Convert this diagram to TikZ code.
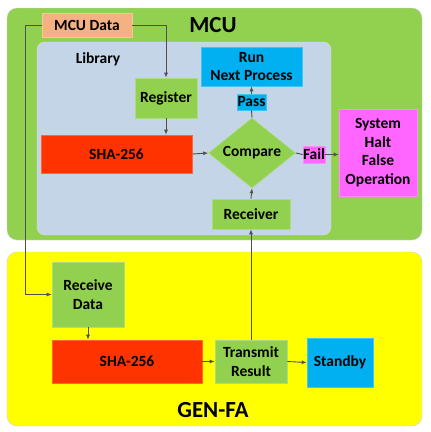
\documentclass[tikz,border=0pt]{standalone}
\usepackage{fontspec}
\setmainfont{Carlito}
\usetikzlibrary{shapes.geometric,arrows.meta}
\definecolor{mgreen}{HTML}{92D050}
\definecolor{mpeach}{HTML}{F4B183}
\definecolor{mlib}{HTML}{C3D5E6}
\definecolor{mred}{HTML}{FF3300}
\definecolor{mcyan}{HTML}{00B0F0}
\definecolor{mpink}{HTML}{FF66FF}
\definecolor{myellow}{HTML}{FFFF00}
\definecolor{mline}{HTML}{505050}
\begin{document}
\begin{tikzpicture}[x=1pt,y=-1pt,
  font=\fontsize{15.5}{18.5}\selectfont\bfseries,
  blk/.style={fill=#1,draw=#1!75!white,line width=0.6pt,inner sep=0pt,align=center},
  arr/.style={-{Latex[length=5pt,width=4pt]},draw=mline,line width=0.9pt},
  ln/.style={draw=mline,line width=0.9pt}]
\useasboundingbox (0,0) rectangle (431,432);
% containers
\draw[fill=mgreen,draw=gray!35,rounded corners=10pt] (7,8) rectangle (422,240);
\draw[fill=mlib,draw=gray!25,rounded corners=8pt] (37,42) rectangle (331,235);
\draw[fill=myellow,draw=gray!35,rounded corners=10pt] (7,252) rectangle (422,426);
\node (mcutitle) at (213,25) {\fontsize{23}{25}\selectfont MCU};
\node (libtitle) at (98,59) {Library};
\node (gentitle) at (213,410) {\fontsize{23}{25}\selectfont GEN-FA};
% MCU side
\node[blk=mpeach,minimum width=90,minimum height=24] (mcudata) at (87,25) {MCU Data};
\node[blk=mgreen,minimum width=62,minimum height=40] (reg) at (166,98) {Register};
\node[blk=mred,minimum width=151,minimum height=38] (sha1) at (116.5,154) {SHA-256};
\node[blk=mgreen,shape=diamond,aspect=1.24,minimum width=87,minimum height=70] (cmp) at (252,153) {Compare};
\node[blk=mcyan,minimum width=29,minimum height=16] (pass) at (251.5,102) {Pass};
\node[blk=mcyan,minimum width=101,minimum height=39] (run) at (251.5,66.5) {Run\\Next Process};
\node[blk=mpink,minimum width=22,minimum height=17] (fail) at (314,154.5) {Fail};
\node[blk=mpink,minimum width=78,minimum height=87] (halt) at (378,152.5) {System\\Halt\\False\\Operation};
\node[blk=mgreen,minimum width=78,minimum height=30] (recv) at (251,214) {Receiver};
% GEN-FA side
\node[blk=mgreen,minimum width=72,minimum height=65] (rdata) at (88,294.5) {Receive\\Data};
\node[blk=mred,minimum width=150,minimum height=43] (sha2) at (127,361.5) {SHA-256};
\node[blk=mgreen,minimum width=72,minimum height=43] (tx) at (251,361.5) {Transmit\\Result};
\node[blk=mcyan,minimum width=66,minimum height=49] (stby) at (340,362.5) {Standby};
\coordinate (lft) at (25,25);
% connectors
\draw[ln] (mcudata.west) -- (lft);
\draw[arr] (lft) |- (rdata.west);
\draw[arr] (mcudata.east) -| (reg.north);
\draw[arr] (reg.south) -- (reg.south |- sha1.north);
\draw[arr] (sha1.east) -- (cmp.west);
\draw[ln] (cmp.north) -- (pass.south);
\draw[arr] (pass.north) -- (run.south);
\draw[ln] (cmp.east) -- (fail.west);
\draw[arr] (fail.east) -- (fail.east -| halt.west);
\draw[arr] (recv.north) -- (cmp.south);
\draw[arr] (rdata.south) -- (rdata.south |- sha2.north);
\draw[arr] (sha2.east) -- (tx.west);
\draw[arr] (tx.east) -- (stby.west);
\draw[arr] (tx.north) -- (recv.south);
\end{tikzpicture}
\end{document}
